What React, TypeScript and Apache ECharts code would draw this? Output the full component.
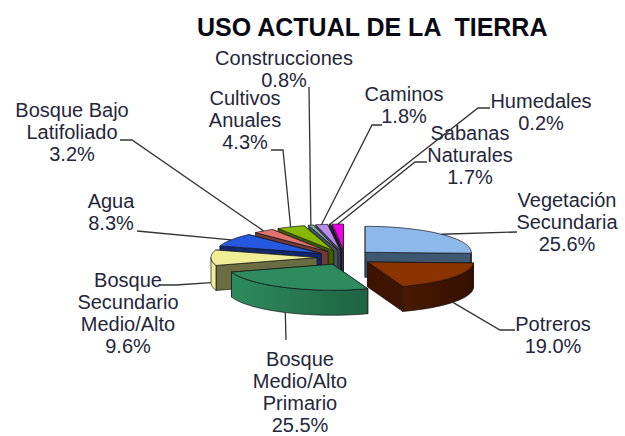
import React, { useEffect, useRef } from "react";
import * as echarts from "echarts";

const titleText = "USO ACTUAL DE LA  TIERRA";
const categories = [
  "Vegetación\nSecundaria",
  "Potreros",
  "Bosque\nMedio/Alto\nPrimario",
  "Bosque\nSecundario\nMedio/Alto",
  "Agua",
  "Bosque Bajo\nLatifoliado",
  "Cultivos\nAnuales",
  "Construcciones",
  "Caminos",
  "Humedales",
  "Sabanas\nNaturales",
];
const shares = [25.6, 19.0, 25.5, 9.6, 8.3, 3.2, 4.3, 0.8, 1.8, 0.2, 1.7];

// top, cut face, outer wall start, outer wall end
const palette = [
  ["#8CB9EA", "#3E5872", "#4E6C8C", "#3E5872"],
  ["#8A3200", "#3E1400", "#4A1A00", "#340F00"],
  ["#2E8B5E", "#1C5C3C", "#2E8B5E", "#1F6342"],
  ["#EFEE97", "#6C6C42", "#EFEE97", "#EFEE97"],
  ["#2458DE", "#12286E", "#12286E", "#12286E"],
  ["#E2726E", "#713A38", "#713A38", "#713A38"],
  ["#86B800", "#435C00", "#435C00", "#435C00"],
  ["#7FA8A8", "#405454", "#405454", "#405454"],
  ["#B88AEA", "#5C4575", "#5C4575", "#5C4575"],
  ["#3A2A50", "#241A30", "#241A30", "#241A30"],
  ["#F000E8", "#5A4A6A", "#5A4A6A", "#5A4A6A"],
];

// pie geometry
const CX = 345;
const CY = 257.5;
const RX = 106;
const RY = 26;
const DEPTH = 25;
const EXPLODE_X = 28;
const EXPLODE_Y = 7.5;

// label placement: centre of the text block, then leader elbow, all in page pixels
const labelCentres = [
  [567, 222],
  [553, 335],
  [300, 391.5],
  [128, 313],
  [111, 212],
  [72, 132],
  [245, 120],
  [284, 69],
  [404, 105],
  [541, 112],
  [470, 155],
];
const leaderStarts = [
  [[517, 232]],
  [[515, 330], [500, 330]],
  [[286, 340]],
  [[160, 285], [176, 285]],
  [[137, 231]],
  [[120, 140], [132, 140]],
  [[271, 150], [283, 150]],
  [[309, 87]],
  [[382, 125], [372, 125]],
  [[490, 108], [478, 108]],
  [[427, 162], [415, 162]],
];

const rad = (d: number) => (d * Math.PI) / 180;

function App() {
  const ref = useRef<HTMLDivElement>(null);
  useEffect(() => {
    const chart = echarts.init(ref.current!, undefined, { renderer: "svg" });
    const total = shares.reduce((a, b) => a + b, 0);
    const starts: number[] = [];
    shares.reduce((acc, v, i) => {
      starts[i] = acc;
      return acc + v;
    }, 0);

    const renderItem = (params: any, api: any) => {
      const i = params.dataIndex;
      const value = api.value(0);
      const a0 = (starts[i] / total) * 360;
      const a1 = a0 + (value / total) * 360;
      const mid = (a0 + a1) / 2;
      const hx = CX + EXPLODE_X * Math.sin(rad(mid));
      const hy = CY - EXPLODE_Y * Math.cos(rad(mid));
      const pt = (a: number, drop = 0) => [
        hx + RX * Math.sin(rad(a)),
        hy - RY * Math.cos(rad(a)) + drop,
      ];
      const arc = (from: number, to: number, drop = 0) => {
        const n = Math.max(2, Math.ceil((to - from) / 3));
        const out: number[][] = [];
        for (let k = 0; k <= n; k++) out.push(pt(from + ((to - from) * k) / n, drop));
        return out;
      };
      const base = Math.round((1 - Math.cos(rad(mid))) * 100) * 10;
      const [topC, cutC, wallA, wallB] = palette[i];
      const edge = { stroke: "#15151a", lineWidth: 0.7 };
      const children: any[] = [];
      // the face turned to the viewer is painted last
      (mid > 180 ? [a1, a0] : [a0, a1]).forEach((a, k) => {
        const p = pt(a);
        children.push({
          type: "polygon",
          z2: base + k,
          shape: { points: [[hx, hy], p, [p[0], p[1] + DEPTH], [hx, hy + DEPTH]] },
          style: { fill: cutC, ...edge },
        });
      });
      const wFrom = Math.max(a0, 90);
      const wTo = Math.min(a1, 270);
      if (wFrom < wTo) {
        children.push({
          type: "polygon",
          z2: base + 2,
          shape: { points: [...arc(wFrom, wTo), ...arc(wFrom, wTo, DEPTH).reverse()] },
          style: {
            fill: new echarts.graphic.LinearGradient(1, 0, 0, 0, [
              { offset: 0, color: wallB },
              { offset: 1, color: wallA },
            ]),
            ...edge,
          },
        });
      }
      children.push({
        type: "polygon",
        z2: base + 3,
        shape: { points: [[hx, hy], ...arc(a0, a1)] },
        style: { fill: topC, ...edge },
      });
      // leader
      const front = mid > 90 && mid < 270;
      const tip = pt(mid, front ? DEPTH : 0);
      children.push({
        type: "polyline",
        z2: 6000,
        shape: { points: [...leaderStarts[i], tip] },
        style: { fill: "none", stroke: "#333", lineWidth: 1.3 },
      });
      const [lx, ly] = labelCentres[i];
      children.push({
        type: "text",
        z2: 5000,
        x: lx,
        y: ly,
        style: {
          text: `${categories[i]}\n${value.toFixed(1)}%`,
          font: '20px "Liberation Sans"',
          fill: "#26263a",
          align: "center",
          verticalAlign: "middle",
          lineHeight: 22,
        },
      });
      return { type: "group", children };
    };

    chart.setOption({
      animation: false,
      backgroundColor: "#ffffff",
      title: {
        text: titleText,
        left: 192,
        top: 9,
        textStyle: {
          fontFamily: "Liberation Sans",
          fontWeight: "bold",
          fontSize: 25,
          color: "#0a0a14",
        },
      },
      series: [
        {
          type: "custom",
          coordinateSystem: "none",
          silent: true,
          clip: false,
          renderItem,
          data: shares.map((v, i) => ({ name: categories[i], value: [v] })),
        },
      ],
    });
    return () => chart.dispose();
  }, []);
  return (
    <div
      ref={ref}
      style={{ position: "fixed", left: 0, top: 0, width: 625, height: 436 }}
    />
  );
}

export default App;
